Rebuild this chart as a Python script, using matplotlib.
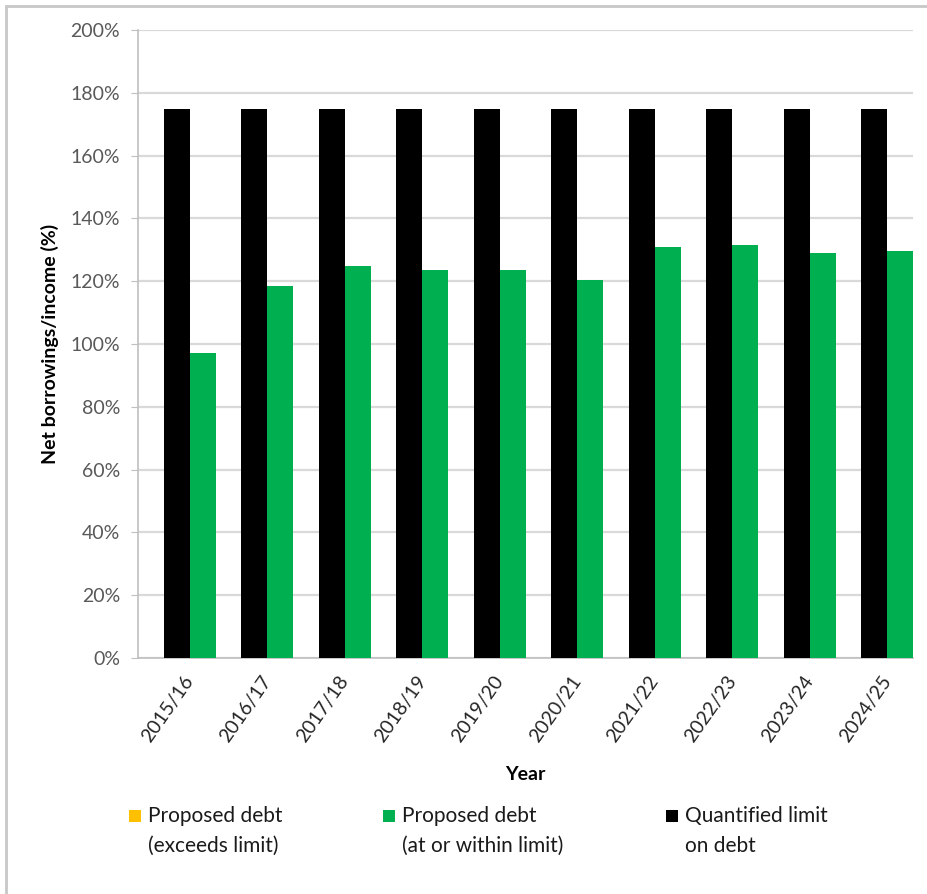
import matplotlib.pyplot as plt
import numpy as np
from matplotlib.patches import Rectangle

years = ['2015/16', '2016/17', '2017/18', '2018/19', '2019/20',
         '2020/21', '2021/22', '2022/23', '2023/24', '2024/25']
quantified_limit = [175, 175, 175, 175, 175, 175, 175, 175, 175, 175]
proposed_within = [97, 118.5, 125, 123.5, 123.5, 120.5, 131, 131.5, 129, 129.5]
proposed_exceeds = [0, 0, 0, 0, 0, 0, 0, 0, 0, 0]

yellow = '#FFC000'
green = '#00B050'
black = '#000000'
grey_text = '#595959'
grid = '#D9D9D9'

plt.rcParams['font.family'] = ['Lato', 'DejaVu Sans']

W, H = 928, 894
dpi = 100
fig = plt.figure(figsize=(W / dpi, H / dpi), dpi=dpi)

# plot area in pixels: left 138, right 913, top 30, bottom 658
ax = fig.add_axes([138 / W, 1 - 658 / H, 775 / W, 628 / H])

x = np.arange(len(years))
w = 0.335
ax.bar(x - w / 2, quantified_limit, width=w, color=black, zorder=3)
ax.bar(x + w / 2, proposed_within, width=w, color=green, zorder=3)
ax.bar(x + w / 2, proposed_exceeds, width=w, color=yellow, zorder=3)

# the original chart is cropped a little on the right
ax.set_xlim(-0.67, len(years) - 0.67)
ax.set_ylim(0, 200)
yt = np.arange(0, 201, 20)
ax.set_yticks(yt)
ax.set_yticklabels(['%d%%' % v for v in yt])
ax.set_xticks(x)
ax.set_xticklabels(years, rotation=55, ha='right', va='center',
                   rotation_mode='anchor')

ax.yaxis.grid(True, color=grid, linewidth=1.6, zorder=0)
ax.set_axisbelow(True)
for s in ['top', 'right']:
    ax.spines[s].set_visible(False)
ax.spines['left'].set_color('#BFBFBF')
ax.spines['bottom'].set_color('#BFBFBF')
ax.spines['left'].set_linewidth(1.2)
ax.spines['bottom'].set_linewidth(1.2)

ax.tick_params(axis='y', length=5, color='#BFBFBF', labelsize=14,
               labelcolor=grey_text, pad=8)
ax.tick_params(axis='x', length=0, labelsize=14, labelcolor='#262626', pad=14)

ax.set_ylabel('Net borrowings/income (%)', fontsize=14, fontweight='bold',
              labelpad=8)
ax.set_xlabel('Year', fontsize=14, fontweight='bold', labelpad=15)

# outer chart border (cropped on right and bottom)
fig.add_artist(Rectangle((6 / W, -0.1), 1.2, 1 - 6 / H + 0.1,
                         transform=fig.transFigure, fill=False,
                         edgecolor='#C8C8C8', linewidth=2))

# legend drawn below the chart
legend_items = [
    (yellow, 'Proposed debt\n(exceeds limit)', 129),
    (green, 'Proposed debt\n(at or within limit)', 383),
    (black, 'Quantified limit\non debt', 666),
]
for col, label, px in legend_items:
    fig.add_artist(Rectangle((px / W, 1 - 822 / H), 12 / W, 12 / H,
                             transform=fig.transFigure, facecolor=col,
                             edgecolor='none'))
    fig.text((px + 19) / W, 1 - 806 / H, label, fontsize=15, va='top',
             ha='left', color='#1a1a1a', linespacing=1.6)

fig.savefig('out.png', dpi=dpi)
